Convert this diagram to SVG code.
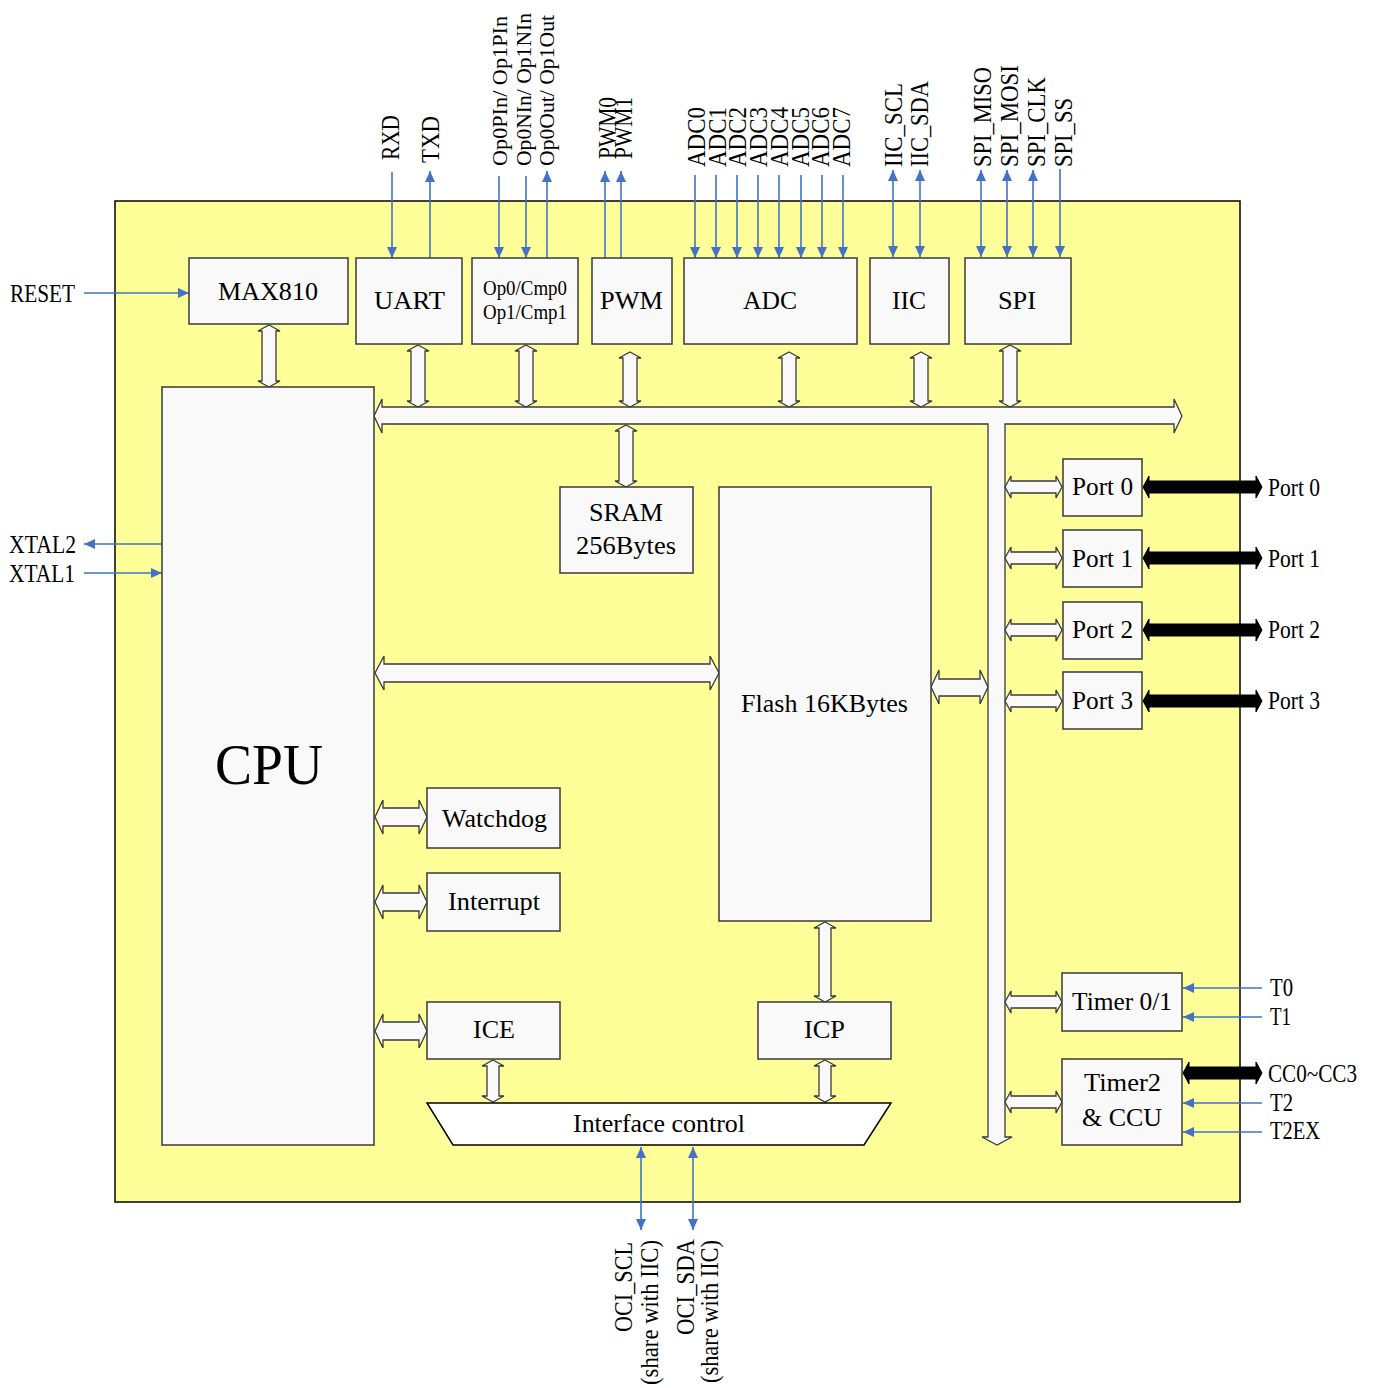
<svg xmlns="http://www.w3.org/2000/svg" width="1373" height="1388" viewBox="0 0 1373 1388">
<style>
text{font-family:"Liberation Serif","Times New Roman",serif;fill:#000;}
.t{font-size:26px;}
.s{font-size:25px;}
.sm{font-size:21px;}
.o{font-size:20px;}
.box{fill:#F9F9F9;stroke:#3a3a3a;stroke-width:1.5;}
.ba{fill:#F9F9F9;stroke:#3a3a3a;stroke-width:1.3;stroke-linejoin:miter;}
.bk{fill:#000;stroke:#000;stroke-width:1;}
.bl{stroke:#4472C4;stroke-width:1.6;fill:none;}
</style>
<defs>
<marker id="ah" viewBox="0 0 11 10" refX="11" refY="5" markerWidth="11" markerHeight="10" markerUnits="userSpaceOnUse" orient="auto-start-reverse">
<path d="M0,0 L11,5 L0,10 Z" fill="#4472C4"/>
</marker>
</defs>
<rect width="1373" height="1388" fill="#fff"/>
<rect id="chip" x="115" y="201" width="1125" height="1001" fill="#FFFF99" stroke="#000" stroke-width="1.5"/>

<g id="connectors">
<path class="ba" d="M374,416 L382,399 L382,407 L1174,407 L1174,399 L1182,416 L1174,433 L1174,424 L1005,424 L1005,1137 L1012,1137 L997,1145 L982,1137 L988,1137 L988,424 L382,424 L382,433 Z"/>
<path class="ba" d="M269,325 L280,331 L276,331 L276,381 L280,381 L269,387 L258,381 L262,381 L262,331 L258,331 Z"/>
<path class="ba" d="M418,345 L429,351 L425,351 L425,401 L429,401 L418,407 L407,401 L411,401 L411,351 L407,351 Z"/>
<path class="ba" d="M526,345 L537,351 L533,351 L533,401 L537,401 L526,407 L515,401 L519,401 L519,351 L515,351 Z"/>
<path class="ba" d="M630,352 L641,358 L637,358 L637,401 L641,401 L630,407 L619,401 L623,401 L623,358 L619,358 Z"/>
<path class="ba" d="M789,352 L800,358 L796,358 L796,401 L800,401 L789,407 L778,401 L782,401 L782,358 L778,358 Z"/>
<path class="ba" d="M921,352 L932,358 L928,358 L928,401 L932,401 L921,407 L910,401 L914,401 L914,358 L910,358 Z"/>
<path class="ba" d="M1010,345 L1021,351 L1017,351 L1017,401 L1021,401 L1010,407 L999,401 L1003,401 L1003,351 L999,351 Z"/>
<path class="ba" d="M626,425 L637,431 L633,431 L633,481 L637,481 L626,487 L615,481 L619,481 L619,431 L615,431 Z"/>
<path class="ba" d="M825,922 L836,928 L831,928 L831,996 L836,996 L825,1002 L814,996 L819,996 L819,928 L814,928 Z"/>
<path class="ba" d="M493,1060 L504,1066 L499,1066 L499,1096 L504,1096 L493,1102 L482,1096 L487,1096 L487,1066 L482,1066 Z"/>
<path class="ba" d="M825,1060 L836,1066 L831,1066 L831,1096 L836,1096 L825,1102 L814,1096 L819,1096 L819,1066 L814,1066 Z"/>
<path class="ba" d="M375,673 L384,656 L384,664 L710,664 L710,656 L719,673 L710,690 L710,682 L384,682 L384,690 Z"/>
<path class="ba" d="M931,687 L939,670 L939,679 L980,679 L980,670 L988,687 L980,704 L980,696 L939,696 L939,704 Z"/>
<path class="ba" d="M375,817 L383,800 L383,808 L419,808 L419,800 L427,817 L419,834 L419,826 L383,826 L383,834 Z"/>
<path class="ba" d="M375,902 L383,885 L383,893 L419,893 L419,885 L427,902 L419,919 L419,911 L383,911 L383,919 Z"/>
<path class="ba" d="M375,1031 L383,1014 L383,1022 L419,1022 L419,1014 L427,1031 L419,1048 L419,1040 L383,1040 L383,1048 Z"/>
<path class="ba" d="M1005,487 L1011,476 L1011,481 L1056,481 L1056,476 L1062,487 L1056,498 L1056,493 L1011,493 L1011,498 Z"/>
<path class="ba" d="M1005,558 L1011,547 L1011,552 L1056,552 L1056,547 L1062,558 L1056,569 L1056,564 L1011,564 L1011,569 Z"/>
<path class="ba" d="M1005,630 L1011,619 L1011,624 L1056,624 L1056,619 L1062,630 L1056,641 L1056,636 L1011,636 L1011,641 Z"/>
<path class="ba" d="M1005,701 L1011,690 L1011,695 L1056,695 L1056,690 L1062,701 L1056,712 L1056,707 L1011,707 L1011,712 Z"/>
<path class="ba" d="M1005,1002 L1011,991 L1011,996 L1056,996 L1056,991 L1062,1002 L1056,1013 L1056,1008 L1011,1008 L1011,1013 Z"/>
<path class="ba" d="M1005,1102 L1011,1091 L1011,1096 L1056,1096 L1056,1091 L1062,1102 L1056,1113 L1056,1108 L1011,1108 L1011,1113 Z"/>
<path class="bk" d="M1143,487 L1149,476 L1149,481 L1256,481 L1256,476 L1262,487 L1256,498 L1256,493 L1149,493 L1149,498 Z"/>
<path class="bk" d="M1143,558 L1149,547 L1149,552 L1256,552 L1256,547 L1262,558 L1256,569 L1256,564 L1149,564 L1149,569 Z"/>
<path class="bk" d="M1143,630 L1149,619 L1149,624 L1256,624 L1256,619 L1262,630 L1256,641 L1256,636 L1149,636 L1149,641 Z"/>
<path class="bk" d="M1143,701 L1149,690 L1149,695 L1256,695 L1256,690 L1262,701 L1256,712 L1256,707 L1149,707 L1149,712 Z"/>
<path class="bk" d="M1183,1073 L1189,1062 L1189,1067 L1256,1067 L1256,1062 L1262,1073 L1256,1084 L1256,1079 L1189,1079 L1189,1084 Z"/>
<line class="bl" x1="84" y1="293" x2="189" y2="293" marker-end="url(#ah)"/>
<line class="bl" x1="162" y1="544" x2="84" y2="544" marker-end="url(#ah)"/>
<line class="bl" x1="84" y1="573" x2="162" y2="573" marker-end="url(#ah)"/>
<line class="bl" x1="392" y1="172" x2="392" y2="258" marker-end="url(#ah)"/>
<line class="bl" x1="430" y1="258" x2="430" y2="171" marker-end="url(#ah)"/>
<line class="bl" x1="499" y1="176" x2="499" y2="258" marker-end="url(#ah)"/>
<line class="bl" x1="526" y1="176" x2="526" y2="258" marker-end="url(#ah)"/>
<line class="bl" x1="547" y1="258" x2="547" y2="171" marker-end="url(#ah)"/>
<line class="bl" x1="605" y1="258" x2="605" y2="171" marker-end="url(#ah)"/>
<line class="bl" x1="621" y1="258" x2="621" y2="171" marker-end="url(#ah)"/>
<line class="bl" x1="695" y1="175" x2="695" y2="258" marker-end="url(#ah)"/>
<line class="bl" x1="716" y1="175" x2="716" y2="258" marker-end="url(#ah)"/>
<line class="bl" x1="737" y1="175" x2="737" y2="258" marker-end="url(#ah)"/>
<line class="bl" x1="758" y1="175" x2="758" y2="258" marker-end="url(#ah)"/>
<line class="bl" x1="779" y1="175" x2="779" y2="258" marker-end="url(#ah)"/>
<line class="bl" x1="801" y1="175" x2="801" y2="258" marker-end="url(#ah)"/>
<line class="bl" x1="822" y1="175" x2="822" y2="258" marker-end="url(#ah)"/>
<line class="bl" x1="843" y1="175" x2="843" y2="258" marker-end="url(#ah)"/>
<line class="bl" x1="893" y1="170" x2="893" y2="257" marker-start="url(#ah)" marker-end="url(#ah)"/>
<line class="bl" x1="920" y1="170" x2="920" y2="257" marker-start="url(#ah)" marker-end="url(#ah)"/>
<line class="bl" x1="981" y1="170" x2="981" y2="257" marker-start="url(#ah)" marker-end="url(#ah)"/>
<line class="bl" x1="1007" y1="170" x2="1007" y2="257" marker-start="url(#ah)" marker-end="url(#ah)"/>
<line class="bl" x1="1033" y1="170" x2="1033" y2="257" marker-start="url(#ah)" marker-end="url(#ah)"/>
<line class="bl" x1="1060" y1="169" x2="1060" y2="257" marker-end="url(#ah)"/>
<line class="bl" x1="1262" y1="988" x2="1183" y2="988" marker-end="url(#ah)"/>
<line class="bl" x1="1262" y1="1017" x2="1183" y2="1017" marker-end="url(#ah)"/>
<line class="bl" x1="1262" y1="1103" x2="1183" y2="1103" marker-end="url(#ah)"/>
<line class="bl" x1="1262" y1="1132" x2="1183" y2="1132" marker-end="url(#ah)"/>
<line class="bl" x1="641" y1="1147" x2="641" y2="1230" marker-start="url(#ah)" marker-end="url(#ah)"/>
<line class="bl" x1="693" y1="1147" x2="693" y2="1230" marker-start="url(#ah)" marker-end="url(#ah)"/>
</g>

<g id="max810"><rect class="box" x="189" y="258" width="159" height="66"/><text class="t" x="218" y="300" textLength="100" lengthAdjust="spacingAndGlyphs">MAX810</text></g>
<g id="uart"><rect class="box" x="356" y="258" width="106" height="86"/><text class="t" x="374" y="309" textLength="71" lengthAdjust="spacingAndGlyphs">UART</text></g>
<g id="opcmp"><rect class="box" x="472" y="258" width="106" height="86"/><text class="o" x="483" y="295" textLength="84" lengthAdjust="spacingAndGlyphs">Op0/Cmp0</text><text class="o" x="483" y="319" textLength="84" lengthAdjust="spacingAndGlyphs">Op1/Cmp1</text></g>
<g id="pwm"><rect class="box" x="592" y="258" width="80" height="86"/><text class="t" x="600" y="309" textLength="63" lengthAdjust="spacingAndGlyphs">PWM</text></g>
<g id="adc"><rect class="box" x="684" y="258" width="173" height="86"/><text class="t" x="743" y="309" textLength="54" lengthAdjust="spacingAndGlyphs">ADC</text></g>
<g id="iic"><rect class="box" x="870" y="258" width="79" height="86"/><text class="t" x="892" y="309" textLength="34" lengthAdjust="spacingAndGlyphs">IIC</text></g>
<g id="spi"><rect class="box" x="965" y="258" width="106" height="86"/><text class="t" x="998" y="309" textLength="38" lengthAdjust="spacingAndGlyphs">SPI</text></g>
<g id="cpu"><rect class="box" x="162" y="387" width="212" height="758"/><text x="215" y="784" style="font-size:58px" textLength="108" lengthAdjust="spacingAndGlyphs">CPU</text></g>
<g id="sram"><rect class="box" x="560" y="487" width="133" height="86"/><text class="t" x="589" y="521" textLength="74" lengthAdjust="spacingAndGlyphs">SRAM</text><text class="t" x="576" y="554" textLength="100" lengthAdjust="spacingAndGlyphs">256Bytes</text></g>
<g id="flash"><rect class="box" x="719" y="487" width="212" height="434"/><text class="t" x="741" y="712" textLength="167" lengthAdjust="spacingAndGlyphs">Flash 16KBytes</text></g>
<g id="watchdog"><rect class="box" x="427" y="788" width="133" height="60"/><text class="t" x="442" y="827" textLength="105" lengthAdjust="spacingAndGlyphs">Watchdog</text></g>
<g id="interrupt"><rect class="box" x="427" y="873" width="133" height="58"/><text class="t" x="448" y="910" textLength="92" lengthAdjust="spacingAndGlyphs">Interrupt</text></g>
<g id="ice"><rect class="box" x="427" y="1002" width="133" height="57"/><text class="t" x="473" y="1038" textLength="42" lengthAdjust="spacingAndGlyphs">ICE</text></g>
<g id="icp"><rect class="box" x="758" y="1002" width="133" height="57"/><text class="t" x="804" y="1038" textLength="41" lengthAdjust="spacingAndGlyphs">ICP</text></g>
<g id="ifctrl"><path d="M427,1103 L891,1103 L864,1145 L453,1145 Z" fill="#FFFFFF" stroke="#000" stroke-width="1.5"/><text class="t" x="573" y="1132" textLength="172" lengthAdjust="spacingAndGlyphs">Interface control</text></g>
<g id="port0"><rect class="box" x="1063" y="459" width="79" height="57"/><text class="t" x="1072" y="495" textLength="61" lengthAdjust="spacingAndGlyphs">Port 0</text></g>
<g id="port1"><rect class="box" x="1063" y="530" width="79" height="57"/><text class="t" x="1072" y="567" textLength="61" lengthAdjust="spacingAndGlyphs">Port 1</text></g>
<g id="port2"><rect class="box" x="1063" y="602" width="79" height="57"/><text class="t" x="1072" y="638" textLength="61" lengthAdjust="spacingAndGlyphs">Port 2</text></g>
<g id="port3"><rect class="box" x="1063" y="672" width="79" height="57"/><text class="t" x="1072" y="709" textLength="61" lengthAdjust="spacingAndGlyphs">Port 3</text></g>
<g id="timer01"><rect class="box" x="1062" y="973" width="120" height="58"/><text class="t" x="1072" y="1010" textLength="100" lengthAdjust="spacingAndGlyphs">Timer 0/1</text></g>
<g id="timer2"><rect class="box" x="1062" y="1059" width="120" height="86"/><text class="t" x="1084" y="1091" textLength="77" lengthAdjust="spacingAndGlyphs">Timer2</text><text class="t" x="1082" y="1126" textLength="80" lengthAdjust="spacingAndGlyphs">&amp; CCU</text></g>

<g id="labels">
<text class="s" x="10" y="302" textLength="65" lengthAdjust="spacingAndGlyphs">RESET</text>
<text class="s" x="9" y="553" textLength="67" lengthAdjust="spacingAndGlyphs">XTAL2</text>
<text class="s" x="9" y="582" textLength="66" lengthAdjust="spacingAndGlyphs">XTAL1</text>
<text class="s" x="1268" y="496" textLength="52" lengthAdjust="spacingAndGlyphs">Port 0</text>
<text class="s" x="1268" y="567" textLength="52" lengthAdjust="spacingAndGlyphs">Port 1</text>
<text class="s" x="1268" y="638" textLength="52" lengthAdjust="spacingAndGlyphs">Port 2</text>
<text class="s" x="1268" y="709" textLength="52" lengthAdjust="spacingAndGlyphs">Port 3</text>
<text class="s" x="1270" y="996" textLength="23" lengthAdjust="spacingAndGlyphs">T0</text>
<text class="s" x="1270" y="1025" textLength="21" lengthAdjust="spacingAndGlyphs">T1</text>
<text class="s" x="1268" y="1082" textLength="89" lengthAdjust="spacingAndGlyphs">CC0~CC3</text>
<text class="s" x="1270" y="1111" textLength="23" lengthAdjust="spacingAndGlyphs">T2</text>
<text class="s" x="1270" y="1139" textLength="50" lengthAdjust="spacingAndGlyphs">T2EX</text>
<text class="s" transform="translate(399,160) rotate(-90)" textLength="45" lengthAdjust="spacingAndGlyphs">RXD</text>
<text class="s" transform="translate(439,163) rotate(-90)" textLength="47" lengthAdjust="spacingAndGlyphs">TXD</text>
<text class="sm" transform="translate(507,166) rotate(-90)" textLength="150" lengthAdjust="spacingAndGlyphs">Op0PIn/ Op1PIn</text>
<text class="sm" transform="translate(531,166) rotate(-90)" textLength="153" lengthAdjust="spacingAndGlyphs">Op0NIn/ Op1NIn</text>
<text class="sm" transform="translate(554,166) rotate(-90)" textLength="151" lengthAdjust="spacingAndGlyphs">Op0Out/ Op1Out</text>
<text class="s" transform="translate(616,159) rotate(-90)" textLength="62" lengthAdjust="spacingAndGlyphs">PWM0</text>
<text class="s" transform="translate(632,159) rotate(-90)" textLength="62" lengthAdjust="spacingAndGlyphs">PWM1</text>
<text class="s" transform="translate(705,167) rotate(-90)" textLength="60" lengthAdjust="spacingAndGlyphs">ADC0</text>
<text class="s" transform="translate(726,167) rotate(-90)" textLength="60" lengthAdjust="spacingAndGlyphs">ADC1</text>
<text class="s" transform="translate(746,167) rotate(-90)" textLength="60" lengthAdjust="spacingAndGlyphs">ADC2</text>
<text class="s" transform="translate(767,167) rotate(-90)" textLength="60" lengthAdjust="spacingAndGlyphs">ADC3</text>
<text class="s" transform="translate(788,167) rotate(-90)" textLength="60" lengthAdjust="spacingAndGlyphs">ADC4</text>
<text class="s" transform="translate(809,167) rotate(-90)" textLength="60" lengthAdjust="spacingAndGlyphs">ADC5</text>
<text class="s" transform="translate(829,167) rotate(-90)" textLength="60" lengthAdjust="spacingAndGlyphs">ADC6</text>
<text class="s" transform="translate(850,167) rotate(-90)" textLength="60" lengthAdjust="spacingAndGlyphs">ADC7</text>
<text class="s" transform="translate(902,167) rotate(-90)" textLength="84" lengthAdjust="spacingAndGlyphs">IIC_SCL</text>
<text class="s" transform="translate(928,167) rotate(-90)" textLength="86" lengthAdjust="spacingAndGlyphs">IIC_SDA</text>
<text class="s" transform="translate(991,167) rotate(-90)" textLength="100" lengthAdjust="spacingAndGlyphs">SPI_MISO</text>
<text class="s" transform="translate(1018,167) rotate(-90)" textLength="102" lengthAdjust="spacingAndGlyphs">SPI_MOSI</text>
<text class="s" transform="translate(1045,167) rotate(-90)" textLength="90" lengthAdjust="spacingAndGlyphs">SPI_CLK</text>
<text class="s" transform="translate(1072,167) rotate(-90)" textLength="69" lengthAdjust="spacingAndGlyphs">SPI_SS</text>
<text class="s" transform="translate(632,1332) rotate(-90)" textLength="90" lengthAdjust="spacingAndGlyphs">OCI_SCL</text>
<text class="s" transform="translate(658,1385) rotate(-90)" textLength="145" lengthAdjust="spacingAndGlyphs">(share with IIC)</text>
<text class="s" transform="translate(694,1335) rotate(-90)" textLength="96" lengthAdjust="spacingAndGlyphs">OCI_SDA</text>
<text class="s" transform="translate(718,1383) rotate(-90)" textLength="143" lengthAdjust="spacingAndGlyphs">(share with IIC)</text>
</g>
</svg>
